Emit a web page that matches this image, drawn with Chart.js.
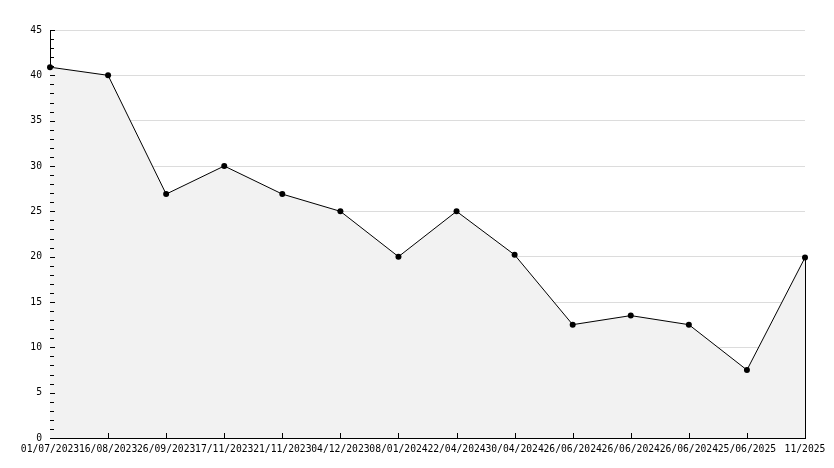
<!DOCTYPE html>
<html><head><meta charset="utf-8">
<script src="https://cdn.jsdelivr.net/npm/chart.js@4/dist/chart.umd.min.js"></script>
<style>html,body{margin:0;padding:0;background:#fff}#wrap{width:834px;height:468px}</style>
</head><body><div id="wrap"><canvas id="c" width="834" height="468"></canvas></div>
<script>
const categories = ["01/07/2023","16/08/2023","26/09/2023","17/11/2023","21/11/2023","04/12/2023","08/01/2024","22/04/2024","30/04/2024","26/06/2024","26/06/2024","26/06/2024","25/06/2025","11/2025"];
const values = [40.9, 40.0, 26.9, 30.0, 26.9, 25.0, 20.0, 25.0, 20.2, 12.5, 13.5, 12.5, 7.5, 19.9];
const yTicks = [0,5,10,15,20,25,30,35,40,45];

const FONT = {family: "'DejaVu Sans Mono', monospace", size: 9.7};

const innerTicks = {
  id: 'innerTicks',
  afterDatasetsDraw(chart) {
    const ctx = chart.ctx, a = chart.chartArea, x = chart.scales.x, y = chart.scales.y;
    ctx.save();
    ctx.strokeStyle = '#000'; ctx.lineWidth = 1;
    ctx.beginPath();
    for (let i = 1; i < categories.length; i++) {
      const px = Math.round(x.getPixelForValue(i)) + 0.5;
      ctx.moveTo(px, a.bottom); ctx.lineTo(px, a.bottom - 5);
    }
    for (let v = 0; v <= 45; v++) {
      const py = Math.round(y.getPixelForValue(v)) + 0.5;
      const len = (v % 5 === 0) ? 5 : 4;
      ctx.moveTo(a.left, py); ctx.lineTo(a.left + len, py);
    }
    const last = categories.length - 1;
    const rx = Math.round(x.getPixelForValue(last)) + 0.5;
    ctx.moveTo(rx, y.getPixelForValue(values[last])); ctx.lineTo(rx, a.bottom);
    ctx.stroke();
    ctx.restore();
  }
};

new Chart(document.getElementById('c'), {
  type: 'line',
  data: {
    labels: categories,
    datasets: [{
      data: values,
      borderColor: '#000',
      borderWidth: 1,
      backgroundColor: '#f2f2f2',
      fill: 'origin',
      tension: 0,
      pointRadius: 3,
      pointStyle: 'circle',
      pointBackgroundColor: '#000',
      pointBorderColor: '#000',
      pointBorderWidth: 0
    }]
  },
  options: {
    responsive: false,
    animation: false,
    events: [],
    layout: {padding: {left: 0, right: 29, top: 30, bottom: 0}},
    plugins: {legend: {display: false}, tooltip: {enabled: false}},
    scales: {
      x: {
        offset: false,
        grid: {display: false, drawTicks: false},
        border: {display: true, color: '#000', width: 1},
        ticks: {autoSkip: false, maxRotation: 0, minRotation: 0, color: '#000', font: FONT, padding: 6},
        afterFit(s) { s.height = 30; }
      },
      y: {
        min: 0, max: 45,
        afterBuildTicks(s) { s.ticks = yTicks.map(v => ({value: v})); },
        grid: {color: '#dcdcdc', drawTicks: false},
        border: {display: true, color: '#000', width: 1},
        ticks: {color: '#000', font: FONT, padding: 8},
        afterFit(s) { s.width = 50; }
      }
    }
  },
  plugins: [innerTicks]
});
</script></body></html>
